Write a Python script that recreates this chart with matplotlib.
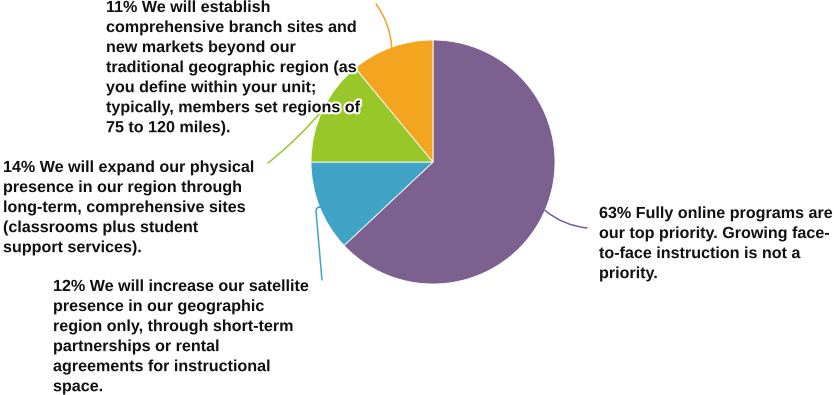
import numpy as np
import matplotlib.pyplot as plt
import matplotlib.patheffects as pe

plt.rcParams['font.family'] = ['Liberation Sans', 'DejaVu Sans']

# slice data, clockwise from 12 o'clock
shares = [63, 12, 14, 11]
colors = ["#7B6090", "#40A3C5", "#97C728", "#F4A51F"]
labels = [
    "63% Fully online programs are\nour top priority. Growing face-\nto-face instruction is not a\npriority.",
    "12% We will increase our satellite\npresence in our geographic\nregion only, through short-term\npartnerships or rental\nagreements for instructional\nspace.",
    "14% We will expand our physical\npresence in our region through\nlong-term, comprehensive sites\n(classrooms plus student\nsupport services).",
    "11% We will establish\ncomprehensive branch sites and\nnew markets beyond our\ntraditional geographic region (as\nyou define within your unit;\ntypically, members set regions of\n75 to 120 miles).",
]

W, H = 834, 395
fig = plt.figure(figsize=(W / 100, H / 100), dpi=100)
ax = fig.add_axes([0, 0, 1, 1])

cx, cy, r = 433, 233, 122
wedges, _ = ax.pie(shares, colors=colors, startangle=90, counterclock=False,
                   center=(cx, cy), radius=r, frame=True,
                   wedgeprops=dict(edgecolor="white", linewidth=0.6))
ax.set_xlim(0, W)
ax.set_ylim(0, H)
ax.set_aspect("equal")
ax.axis("off")

# label placement (top-left corner of each text block) and leader line ends
text_pos = [(599, 189), (53, 116), (3, 235), (106, 395)]
line_end = [(587, 167), (322, 115), (268, 232), (376, 391)]
conn = ["arc3,rad=-0.15", "angle,angleA=95,angleB=180,rad=5",
        "arc3,rad=0.05", "arc3,rad=-0.15"]

halo = [pe.withStroke(linewidth=3, foreground="white")]
for w, lab, tp, le, cs, col in zip(wedges, labels, text_pos, line_end, conn, colors):
    ang = np.deg2rad((w.theta1 + w.theta2) / 2)
    edge = (cx + r * np.cos(ang), cy + r * np.sin(ang))
    ax.annotate("", xy=edge, xytext=le,
                arrowprops=dict(arrowstyle="-", color=col, lw=1.1,
                                connectionstyle=cs, shrinkA=0, shrinkB=0))
for lab, tp in zip(labels, text_pos):
    ax.text(tp[0], tp[1], lab, ha="left", va="top", fontsize=11.6,
            fontweight="bold", color="#111111", linespacing=1.42,
            path_effects=halo, zorder=5)

fig.savefig("out.png", dpi=100)
